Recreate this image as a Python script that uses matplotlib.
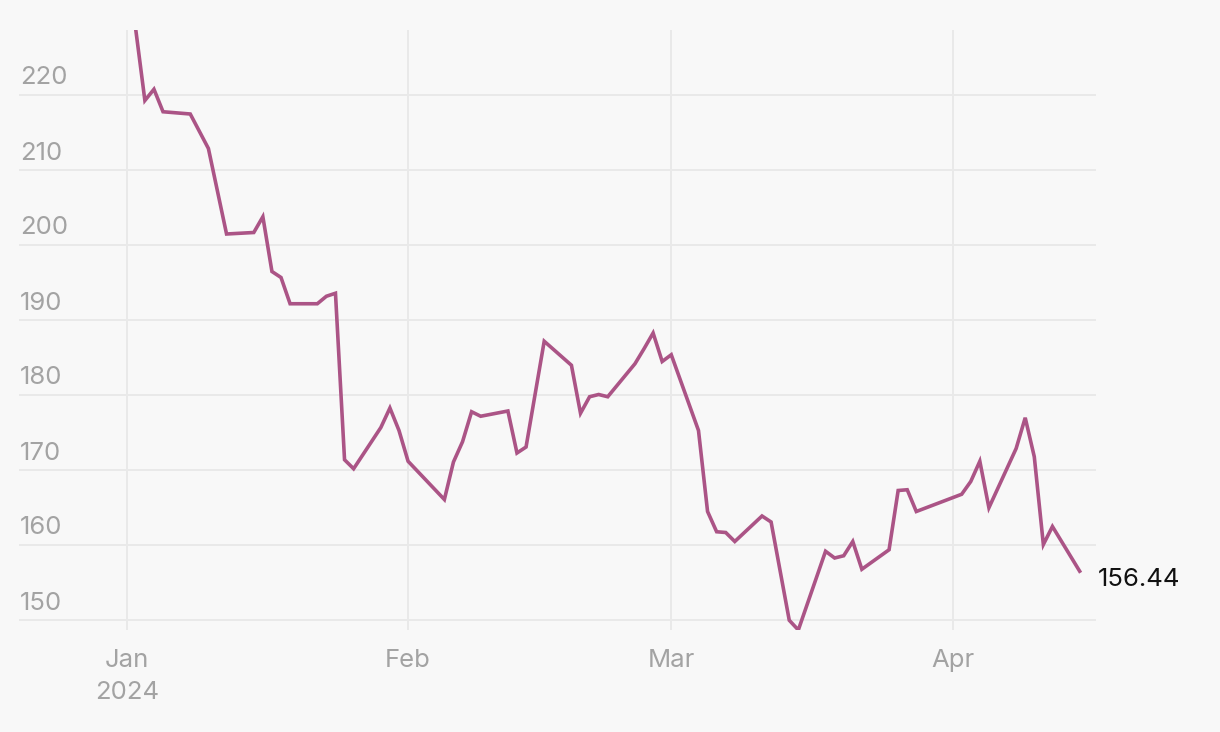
"""
Kursverlauf Jan - Apr 2024 als Linienchart
"""
import pandas as pd
import matplotlib
matplotlib.use("Agg")
import matplotlib.pyplot as plt
import matplotlib.transforms as mtransforms

# Daten
dates = [
    "2024-01-02", "2024-01-03", "2024-01-04", "2024-01-05", "2024-01-08",
    "2024-01-10", "2024-01-12", "2024-01-15", "2024-01-16", "2024-01-17",
    "2024-01-18", "2024-01-19", "2024-01-22", "2024-01-23", "2024-01-24",
    "2024-01-25", "2024-01-26", "2024-01-29", "2024-01-30", "2024-01-31",
    "2024-02-01", "2024-02-05", "2024-02-06", "2024-02-07", "2024-02-08",
    "2024-02-09", "2024-02-12", "2024-02-13", "2024-02-14", "2024-02-16",
    "2024-02-19", "2024-02-20", "2024-02-21", "2024-02-22", "2024-02-23",
    "2024-02-26", "2024-02-27", "2024-02-28", "2024-02-29", "2024-03-01",
    "2024-03-04", "2024-03-05", "2024-03-06", "2024-03-07", "2024-03-08",
    "2024-03-11", "2024-03-12", "2024-03-14", "2024-03-15", "2024-03-18",
    "2024-03-19", "2024-03-20", "2024-03-21", "2024-03-22", "2024-03-25",
    "2024-03-26", "2024-03-27", "2024-03-28", "2024-04-02", "2024-04-03",
    "2024-04-04", "2024-04-05", "2024-04-08", "2024-04-09", "2024-04-10",
    "2024-04-11", "2024-04-12", "2024-04-15",
]
prices = [
    228.6, 219.2, 220.7, 217.7, 217.4,
    212.8, 201.4, 201.6, 203.7, 196.4,
    195.6, 192.1, 192.1, 193.1, 193.5,
    171.3, 170.1, 175.6, 178.2, 175.2,
    171.1, 166.0, 171.0, 173.7, 177.7,
    177.1, 177.8, 172.2, 173.0, 187.1,
    183.9, 177.5, 179.7, 180.0, 179.7,
    184.1, 186.1, 188.2, 184.4, 185.3,
    175.2, 164.4, 161.7, 161.6, 160.4,
    163.8, 163.0, 149.9, 148.6, 159.1,
    158.2, 158.5, 160.4, 156.7, 159.3,
    167.2, 167.3, 164.4, 166.7, 168.4,
    171.1, 164.9, 172.8, 176.9, 171.7,
    160.0, 162.4, 156.44,
]
y_ticks = [150, 160, 170, 180, 190, 200, 210, 220]
month_ticks = ["2024-01-01", "2024-02-01", "2024-03-01", "2024-04-01"]
month_labels = ["Jan\n2024", "Feb", "Mar", "Apr"]

x = pd.to_datetime(dates)

bg = "#f8f8f8"
grid_col = "#e9e9e9"
label_col = "#a3a3a3"
line_col = "#ab5486"

plt.rcParams['font.family'] = ['Inter', 'DejaVu Sans']

fig = plt.figure(figsize=(12.2, 7.32), dpi=100, facecolor=bg)
ax = fig.add_axes([19 / 1220, 102 / 732, 1077 / 1220, 600 / 732])
ax.set_facecolor(bg)

# Linie
ax.plot(x, prices, color=line_col, lw=2.6, solid_joinstyle="miter", zorder=3)

# Achsenbereich
start = pd.Timestamp("2024-01-01")
ax.set_xlim(start - pd.Timedelta(days=11.87), start + pd.Timedelta(days=106.8))
ax.set_ylim(min(prices), max(prices))

# Gitter
ax.set_yticks(y_ticks)
ax.set_xticks(pd.to_datetime(month_ticks))
ax.grid(True, color=grid_col, lw=1.4, zorder=0)
ax.tick_params(axis="y", length=0, labelleft=False)
ax.tick_params(axis="x", length=0, pad=14, labelsize=18.5, labelcolor=label_col)
ax.set_xticklabels(month_labels, linespacing=1.45)
for s in ax.spines.values():
    s.set_visible(False)

# y-Beschriftung ueber den Gitterlinien
trans = mtransforms.blended_transform_factory(ax.transAxes, ax.transData)
for t in y_ticks:
    ax.annotate(str(t), xy=(0.001, t), xycoords=trans, xytext=(0, 7.2),
                textcoords="offset points", ha="left", va="baseline",
                fontsize=18.5, color=label_col, annotation_clip=False)

# Letzter Wert
ax.annotate(f"{prices[-1]:.2f}", xy=(x[-1], prices[-1]), xytext=(13, -6),
            textcoords="offset points", ha="left", va="center",
            fontsize=18.5, color="#111111", annotation_clip=False)

plt.savefig("out.png", dpi=100, facecolor=bg)
